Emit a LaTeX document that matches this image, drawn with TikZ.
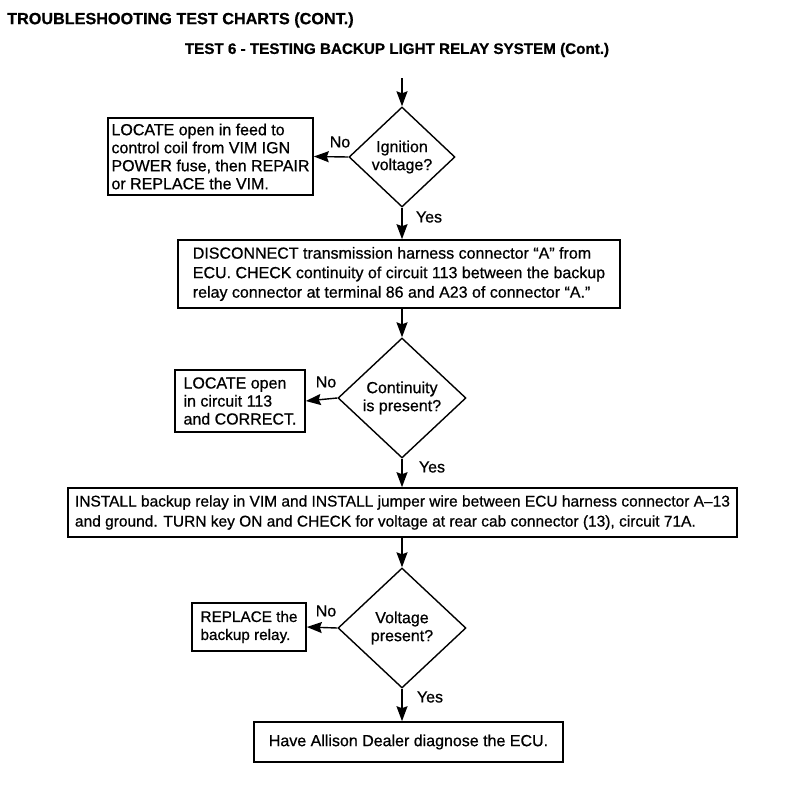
\documentclass[tikz,border=0pt]{standalone}
\usepackage{fontspec}
\setmainfont{Liberation Sans}[FakeBold=0.7]
\usetikzlibrary{shapes.geometric,arrows.meta}
\begin{document}
\begin{tikzpicture}[x=1pt,y=-1pt,
  every node/.style={font=\fontsize{16}{18}\selectfont},
  stepbox/.style={draw,line width=1.6pt,rectangle,inner sep=0pt,align=left},
  decision/.style={draw,line width=1.4pt,diamond,inner sep=0pt,align=center},
  flow/.style={line width=1.4pt,-{Stealth[length=15pt,width=11pt,inset=2pt]}},
  lbl/.style={inner sep=0pt}]
\useasboundingbox (0,0) rectangle (800,795);
\node[anchor=west,inner sep=0pt,font=\bfseries\fontsize{16.2}{18}\selectfont] (title) at (7,20) {TROUBLESHOOTING TEST CHARTS (CONT.)};
\node[inner sep=0pt,font=\bfseries\fontsize{15.2}{18}\selectfont] (sub) at (397,50) {TEST 6 - TESTING BACKUP LIGHT RELAY SYSTEM (Cont.)};
\coordinate (start) at (402,78);
\node[decision,minimum width=106pt,minimum height=100pt] (d1) at (402,157) {Ignition\\voltage?};
\node[stepbox,minimum width=205pt,minimum height=77pt] (b1) at (210.5,156.5) {LOCATE open in feed to\\control coil from VIM IGN\\POWER fuse, then REPAIR\\or REPLACE the VIM.};
\node[stepbox,minimum width=442pt,minimum height=68pt,font=\fontsize{16}{19.5}\selectfont] (b2) at (399,274) {DISCONNECT transmission harness connector “A” from\\ECU. CHECK continuity of circuit 113 between the backup\\relay connector at terminal 86 and A23 of connector “A.”};
\node[decision,minimum width=128pt,minimum height=120pt] (d2) at (402,398) {Continuity\\is present?};
\node[stepbox,minimum width=130pt,minimum height=62pt] (b3) at (240,401) {LOCATE open\\in circuit 113\\and CORRECT.};
\node[stepbox,minimum width=669pt,minimum height=49pt,font=\fontsize{15.5}{20}\selectfont] (b4) at (402.5,512.5) {INSTALL backup relay in VIM and INSTALL jumper wire between ECU harness connector A–13\\and ground. TURN key ON and CHECK for voltage at rear cab connector (13), circuit 71A.};
\node[decision,minimum width=128pt,minimum height=120pt] (d3) at (402,628) {Voltage\\present?};
\node[stepbox,minimum width=114pt,minimum height=48pt,font=\fontsize{15.3}{18}\selectfont] (b5) at (249,627) {REPLACE the\\backup relay.};
\node[stepbox,minimum width=309pt,minimum height=40pt] (b6) at (408.5,742) {Have Allison Dealer diagnose the ECU.};
\draw[flow] (start) -- (d1.north);
\draw[flow] (d1.west) -- (b1.east);
\draw[flow] (d1.south) -- (d1.south |- b2.north);
\draw[flow] (d1.south |- b2.south) -- (d2.north);
\draw[flow] (d2.west) -- (b3.east);
\draw[flow] (d2.south) -- (d2.south |- b4.north);
\draw[flow] (d2.south |- b4.south) -- (d3.north);
\draw[flow] (d3.west) -- (b5.east);
\draw[flow] (d3.south) -- (d3.south |- b6.north);
\node[lbl] (no1) at (340,142) {No};
\node[lbl] (yes1) at (429,217) {Yes};
\node[lbl] (no2) at (326,382) {No};
\node[lbl] (yes2) at (432,467) {Yes};
\node[lbl] (no3) at (326,611) {No};
\node[lbl] (yes3) at (430,697) {Yes};
\end{tikzpicture}
\end{document}
